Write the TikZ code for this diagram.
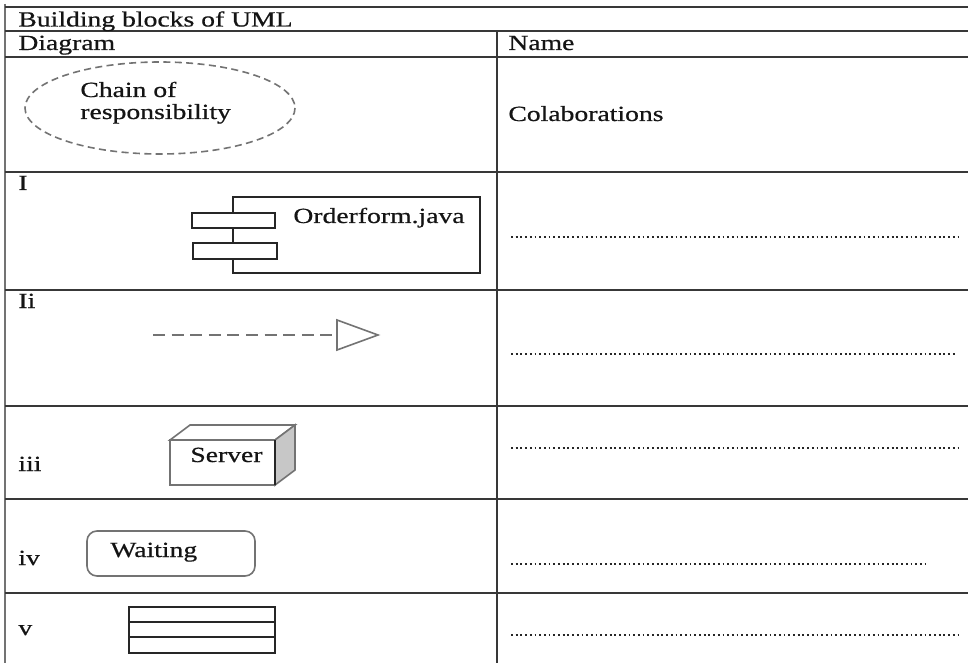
\documentclass[tikz,border=0pt]{standalone}
\usepackage{fontspec}
\setmainfont[FakeStretch=1.28,FakeBold=0.6]{Liberation Serif}
\begin{document}
\begin{tikzpicture}[x=0.5pt,y=-0.5pt,
  grid/.style={draw=black!78, line width=1pt},
  outer/.style={draw=black!55, line width=1.3pt},
  txt/.style={anchor=base west, inner sep=0pt, font=\fontsize{10.8}{12}\selectfont, text=black!92},
  blank/.style={draw=black!85, line width=0.95pt, dash pattern=on 0.9pt off 1.45pt},
  shapeline/.style={draw=black!85, line width=0.8pt},
  greyline/.style={draw=black!55, line width=0.8pt}]
\useasboundingbox (0,0) rectangle (968,663);
\fill[white] (0,0) rectangle (968,663);

% table rules
\draw[outer] (5,4) -- (5,663);
\draw[grid] (5,7) -- (968,7);
\draw[grid] (5,31.5) -- (968,31.5);
\draw[grid] (5,57) -- (968,57);
\draw[grid] (5,172) -- (968,172);
\draw[grid] (5,290) -- (968,290);
\draw[grid] (5,406) -- (968,406);
\draw[grid] (5,499) -- (968,499);
\draw[grid] (5,593) -- (968,593);
\draw[grid] (496.5,31.5) -- (496.5,663);

% headings
\node[txt] (title) at (18,26.5) {Building blocks of UML};
\node[txt] (hdiag) at (18,50) {Diagram};
\node[txt] (hname) at (508,50) {Name};

% row: collaboration
\draw[greyline, dash pattern=on 3.5pt off 2.2pt] (160,108) ellipse [x radius=135, y radius=46];
\node[txt] (chain1) at (80,97) {Chain of};
\node[txt] (chain2) at (80,119) {responsibility};
\node[txt] (collab) at (508,121) {Colaborations};

% row I: component
\node[txt] (lab1) at (18,190) {I};
\draw[shapeline] (233,197) rectangle (480,273);
\draw[shapeline, fill=white] (192,213) rectangle (275,228);
\draw[shapeline, fill=white] (193,243) rectangle (277,259);
\node[txt] (comp) at (293,223) {Orderform.java};
\draw[blank] (511,237) -- (962,237);

% row Ii: realization arrow
\node[txt] (lab2) at (18,308) {Ii};
\coordinate (rstart) at (153,334.5);
\coordinate (rbase) at (337,334.5);
\draw[greyline, line width=1pt, dash pattern=on 6pt off 3.3pt] (rstart) -- (rbase);
\draw[greyline, fill=white, line join=miter] (337,320) -- (378,335) -- (337,350) -- cycle;
\draw[blank] (511,354) -- (955,354);

% row iii: node
\node[txt] (lab3) at (18,471) {iii};
\draw[greyline, fill=white] (170,440) -- (190,425) -- (295,425) -- (275,440) -- cycle;
\draw[greyline, fill=black!22] (275,440) -- (295,425) -- (295,470) -- (275,485) -- cycle;
\draw[greyline, fill=white] (170,440) rectangle (275,485);
\draw[shapeline] (275,440) -- (275,485);
\node[txt] (srv) at (190,462) {Server};
\draw[blank] (511,448) -- (962,448);

% row iv: state
\node[txt] (lab4) at (18,565) {iv};
\draw[greyline, rounded corners=5pt] (87,531) rectangle (255,576);
\node[txt] (wait) at (110,557) {Waiting};
\draw[blank] (511,564) -- (927,564);

% row v: class
\node[txt] (lab5) at (18,635) {v};
\draw[shapeline] (129,607) rectangle (275,653);
\draw[shapeline] (129,622) -- (275,622);
\draw[shapeline] (129,637) -- (275,637);
\draw[blank] (511,635) -- (962,635);
\end{tikzpicture}
\end{document}
